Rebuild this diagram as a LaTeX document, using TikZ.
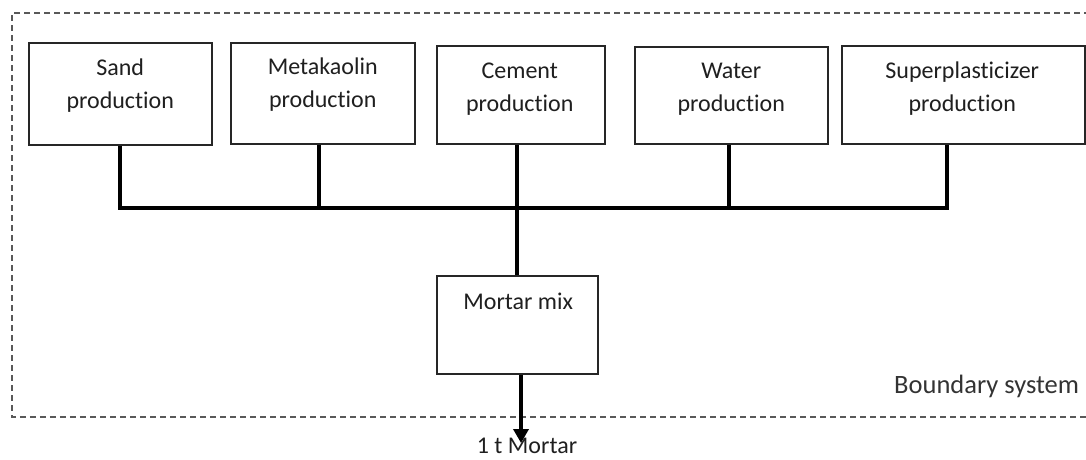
\documentclass[tikz,border=0pt]{standalone}
\usepackage{fontspec}
\setmainfont{Carlito}[Ligatures={NoCommon,NoRequired,NoContextual}]
\usetikzlibrary{calc,arrows.meta}
\begin{document}
\begin{tikzpicture}[x=1pt,y=-1pt,
  box/.style={draw=black!85,line width=1.5pt,fill=white,anchor=north west,inner sep=0pt},
  lbl/.style={anchor=north,inner sep=0pt,align=center,font=\fontsize{24}{33}\selectfont,text=black!88},
  conn/.style={line width=3.6pt,black},
  bound/.style={draw=black!65,line width=1.4pt,dash pattern=on 6pt off 4pt}]
\useasboundingbox (0,0) rectangle (1086,459);
% boundary
\draw[bound] (1100,13) -- (12,13) -- (12,417) -- (1100,417);
% boxes
\node[box,minimum width=183pt,minimum height=102pt] (sand) at (28,42) {};
\node[box,minimum width=184pt,minimum height=101pt] (meta) at (230,42) {};
\node[box,minimum width=168pt,minimum height=98pt] (cem) at (436,45) {};
\node[box,minimum width=193pt,minimum height=97pt] (wat) at (634,46) {};
\node[box,minimum width=243pt,minimum height=98pt] (sup) at (841,45) {};
\node[box,minimum width=161pt,minimum height=98pt] (mix) at (436,275) {};
% labels
\node[lbl] (tsand) at ($(sand.north)+(0,17)$) {Sand\\production};
\node[lbl] (tmeta) at ($(meta.north)+(0,16)$) {Metakaolin\\production};
\node[lbl] (tcem) at ($(cem.north)+(-1,18)$) {Cement\\production};
\node[lbl] (twat) at ($(wat.north)+(0,17)$) {Water\\production};
\node[lbl] (tsup) at ($(sup.north)+(-1,17)$) {Superplasticizer\\production};
\node[lbl] (tmix) at ($(mix.north)+(1,18)$) {Mortar mix};
\node[lbl,anchor=north west,text=black!80,font=\fontsize{26.5}{30}\selectfont] (tbound) at (894,375) {Boundary system};
\node[lbl] (tout) at (527,438) {1 t Mortar};
% connectors
\coordinate (bus) at (0,208);
\coordinate (out) at (521,443);
\draw[conn,line join=miter] (sand.south) -- (sand.south |- bus) -- ($(sup.south |- bus)+(-16,0)$) -- ($(sup.south)+(-16,0)$);
\draw[conn] ($(meta.south)+(-4,0)$) -- ($(meta.south |- bus)+(-4,0)$);
\draw[conn] ($(wat.south)+(-2,0)$) -- ($(wat.south |- bus)+(-2,0)$);
\draw[conn] (mix.north |- cem.south) -- (mix.north);
\draw[conn,-{Triangle[length=14pt,width=15pt]}] (mix.south -| out) -- (out);
\end{tikzpicture}
\end{document}
